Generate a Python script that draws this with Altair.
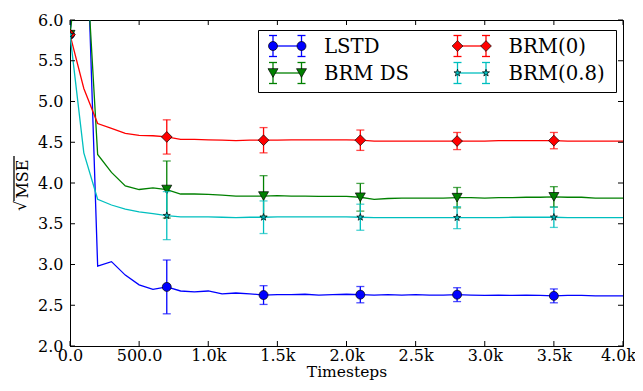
import math
import altair as alt
import pandas as pd

# ---------------- data ----------------
timesteps = list(range(0, 4001, 100))

lstd = [5.82, 8.2, 2.98, 3.035, 2.87, 2.75, 2.695, 2.725, 2.675, 2.665, 2.675,
        2.64, 2.65, 2.64, 2.625, 2.63, 2.63, 2.635, 2.625, 2.63, 2.635,
        2.63, 2.625, 2.63, 2.625, 2.63, 2.625, 2.625, 2.63, 2.625, 2.62,
        2.625, 2.62, 2.625, 2.62, 2.615, 2.62, 2.62, 2.615, 2.615, 2.615]
brm_ds = [5.82, 7.3, 4.35, 4.13, 3.965, 3.92, 3.94, 3.92, 3.865, 3.865, 3.86,
          3.85, 3.84, 3.84, 3.84, 3.845, 3.84, 3.84, 3.835, 3.835, 3.835,
          3.825, 3.80, 3.81, 3.815, 3.815, 3.815, 3.815, 3.82, 3.82, 3.815,
          3.82, 3.82, 3.825, 3.825, 3.83, 3.825, 3.825, 3.815, 3.815, 3.815]
brm0 = [5.82, 5.16, 4.73, 4.67, 4.61, 4.585, 4.58, 4.565, 4.535, 4.535, 4.53,
        4.525, 4.52, 4.525, 4.525, 4.525, 4.53, 4.53, 4.53, 4.53, 4.53,
        4.525, 4.515, 4.515, 4.515, 4.515, 4.515, 4.515, 4.515, 4.515, 4.515,
        4.52, 4.52, 4.52, 4.52, 4.52, 4.515, 4.515, 4.515, 4.515, 4.515]
brm08 = [5.82, 4.37, 3.80, 3.73, 3.68, 3.645, 3.625, 3.60, 3.585, 3.585, 3.585,
         3.58, 3.575, 3.58, 3.58, 3.585, 3.585, 3.585, 3.585, 3.585, 3.585,
         3.58, 3.575, 3.575, 3.575, 3.575, 3.575, 3.575, 3.575, 3.575, 3.575,
         3.575, 3.58, 3.58, 3.58, 3.58, 3.575, 3.575, 3.575, 3.575, 3.575]

marker_steps = [0, 700, 1400, 2100, 2800, 3500]
err_steps = [700, 1400, 2100, 2800, 3500]
lstd_err = [0.33, 0.115, 0.10, 0.085, 0.085]
brm_ds_err = [0.35, 0.25, 0.17, 0.125, 0.125]
brm0_err = [0.21, 0.155, 0.125, 0.105, 0.10]
brm08_err = [0.295, 0.20, 0.16, 0.135, 0.125]

series_names = ["LSTD", "BRM DS", "BRM(0)", "BRM(0.8)"]
series_values = [lstd, brm_ds, brm0, brm08]
series_errors = [lstd_err, brm_ds_err, brm0_err, brm08_err]

x_ticks = [0, 500, 1000, 1500, 2000, 2500, 3000, 3500, 4000]
y_ticks = [2.0, 2.5, 3.0, 3.5, 4.0, 4.5, 5.0, 5.5, 6.0]
x_title = "Timesteps"
y_title_root = "\u221a"
y_title_body = "MSE"

# ---------------- style ----------------
W, H = 553, 326
FONT = "DejaVu Serif, Liberation Serif, serif"
colors = ["#0000ff", "#008000", "#ff0000", "#00bfbf"]


def star_path(inner=0.4):
    pts = []
    for i in range(10):
        r = 1.0 if i % 2 == 0 else inner
        a = -math.pi / 2 + i * math.pi / 5
        pts.append((r * math.cos(a), r * math.sin(a)))
    return "M" + " L".join(f"{x:.3f},{y:.3f}" for x, y in pts) + " Z"


shapes = ["circle", "triangle-down", "diamond", star_path()]
sizes = [80, 100, 115, 55]
LW = 1.3

x_scale = alt.Scale(domain=[0, 4000], nice=False, zero=False)
y_scale = alt.Scale(domain=[2, 6], nice=False, zero=False)
x_axis = alt.Axis(values=x_ticks, title=x_title, ticks=False, tickSize=0, grid=False,
                  labelExpr="datum.value == 0 ? '0.0' : (datum.value < 1000 ? format(datum.value, '.1f') : format(datum.value / 1000, '.1f') + 'k')",
                  labelOffset=alt.ExprRef(expr="datum.value == 4000 ? -5 : 0"),
                  labelPadding=1, titleY=30, titleBaseline="alphabetic", titleFontSize=15.5,
                  labelFlush=False)
y_axis = alt.Axis(values=y_ticks, title=None, format=".1f", ticks=False, tickSize=0,
                  grid=False, labelPadding=7, labelFlush=False)


def X(field):
    return alt.X(f"{field}:Q", scale=x_scale, axis=x_axis)


def Y(field):
    return alt.Y(f"{field}:Q", scale=y_scale, axis=y_axis)


layers = []

for name, vals, errs, col, shp, sz in zip(series_names, series_values, series_errors,
                                          colors, shapes, sizes):
    line_df = pd.DataFrame({"t": timesteps, "v": vals})
    lookup = dict(zip(timesteps, vals))
    err_df = pd.DataFrame({
        "t": err_steps,
        "lo": [lookup[s] - e for s, e in zip(err_steps, errs)],
        "hi": [lookup[s] + e for s, e in zip(err_steps, errs)],
    })
    mk_df = pd.DataFrame({"t": marker_steps, "v": [lookup[s] for s in marker_steps]})

    layers.append(alt.Chart(line_df).mark_line(color=col, strokeWidth=LW, clip=True)
                  .encode(x=X("t"), y=Y("v")))
    layers.append(alt.Chart(err_df).mark_rule(color=col, strokeWidth=LW)
                  .encode(x=X("t"), y=Y("lo"), y2="hi:Q"))
    for f in ["lo", "hi"]:
        layers.append(alt.Chart(err_df).mark_tick(color=col, orient="horizontal",
                                                  size=8, thickness=LW)
                      .encode(x=X("t"), y=Y(f)))
    layers.append(alt.Chart(mk_df).mark_point(shape=shp, size=sz, filled=True, fill=col,
                                              stroke="black", strokeWidth=0.7,
                                              opacity=1, clip=True)
                  .encode(x=X("t"), y=Y("v")))

# inward ticks on all four sides
xt = pd.DataFrame({"p": x_ticks})
yt = pd.DataFrame({"p": y_ticks})
TL = 5
layers.append(alt.Chart(xt).mark_rule(color="black", strokeWidth=1)
              .encode(x=X("p"), y=alt.value(H), y2=alt.value(H - TL)))
layers.append(alt.Chart(xt).mark_rule(color="black", strokeWidth=1)
              .encode(x=X("p"), y=alt.value(0), y2=alt.value(TL)))
layers.append(alt.Chart(yt).mark_rule(color="black", strokeWidth=1)
              .encode(y=Y("p"), x=alt.value(0), x2=alt.value(TL)))
layers.append(alt.Chart(yt).mark_rule(color="black", strokeWidth=1)
              .encode(y=Y("p"), x=alt.value(W), x2=alt.value(W - TL)))

one = pd.DataFrame({"a": [0]})

# y-axis title: sqrt(MSE) with a vinculum
layers.append(alt.Chart(one).mark_text(text=y_title_body, font=FONT, fontSize=16, angle=270,
                                       align="center", baseline="middle", color="black")
              .encode(x=alt.value(-47.5), y=alt.value(159)))
layers.append(alt.Chart(one).mark_rule(color="black", strokeWidth=1.3)
              .encode(x=alt.value(-56), y=alt.value(136), y2=alt.value(181)))
layers.append(alt.Chart(one).mark_text(text=y_title_root, font=FONT, fontSize=16, angle=270,
                                       align="center", baseline="middle", color="black")
              .encode(x=alt.value(-49.5), y=alt.value(186)))

# ---------------- legend (drawn by hand, matplotlib style) ----------------
LX0, LX1, LY0, LY1 = 188.5, 546.5, 10.5, 72.5
layers.append(alt.Chart(one).mark_rect(fill="white", stroke="black", strokeWidth=1)
              .encode(x=alt.value(LX0), x2=alt.value(LX1), y=alt.value(LY0), y2=alt.value(LY1)))

leg_pos = [(203, 26), (203, 53), (387.5, 26), (387.5, 53)]
HANDLE = 28.5
label_off = 51
ERR_PX = 10.5
for name, col, shp, sz, (lx, ly) in zip(series_names, colors, shapes, sizes, leg_pos):
    layers.append(alt.Chart(one).mark_rule(color=col, strokeWidth=LW)
                  .encode(x=alt.value(lx), x2=alt.value(lx + HANDLE), y=alt.value(ly)))
    for mx in [lx, lx + HANDLE]:
        layers.append(alt.Chart(one).mark_rule(color=col, strokeWidth=LW)
                      .encode(x=alt.value(mx), y=alt.value(ly - ERR_PX), y2=alt.value(ly + ERR_PX)))
        for cy in [ly - ERR_PX, ly + ERR_PX]:
            layers.append(alt.Chart(one).mark_rule(color=col, strokeWidth=LW)
                          .encode(x=alt.value(mx - 4), x2=alt.value(mx + 4), y=alt.value(cy)))
        layers.append(alt.Chart(one).mark_point(shape=shp, size=sz, filled=True, fill=col,
                                                stroke="black", strokeWidth=0.7, opacity=1)
                      .encode(x=alt.value(mx), y=alt.value(ly)))
    layers.append(alt.Chart(one).mark_text(text=name, font=FONT, fontSize=19.7, align="left",
                                           baseline="middle", color="black")
                  .encode(x=alt.value(lx + label_off), y=alt.value(ly + 1)))

chart = alt.layer(*layers).properties(
    width=W, height=H,
    autosize=alt.AutoSizeParams(type="none"),
    padding={"left": 62, "top": 12, "right": 12, "bottom": 34},
).configure_view(stroke="black", strokeWidth=1).configure_axis(
    labelFont=FONT, labelFontSize=16, labelColor="black",
    titleFont=FONT, titleFontSize=16, titleFontWeight="normal", titleColor="black",
    domainColor="black", domainWidth=1,
)

chart.save("out.html", embed_options={"renderer": "svg", "actions": False})
